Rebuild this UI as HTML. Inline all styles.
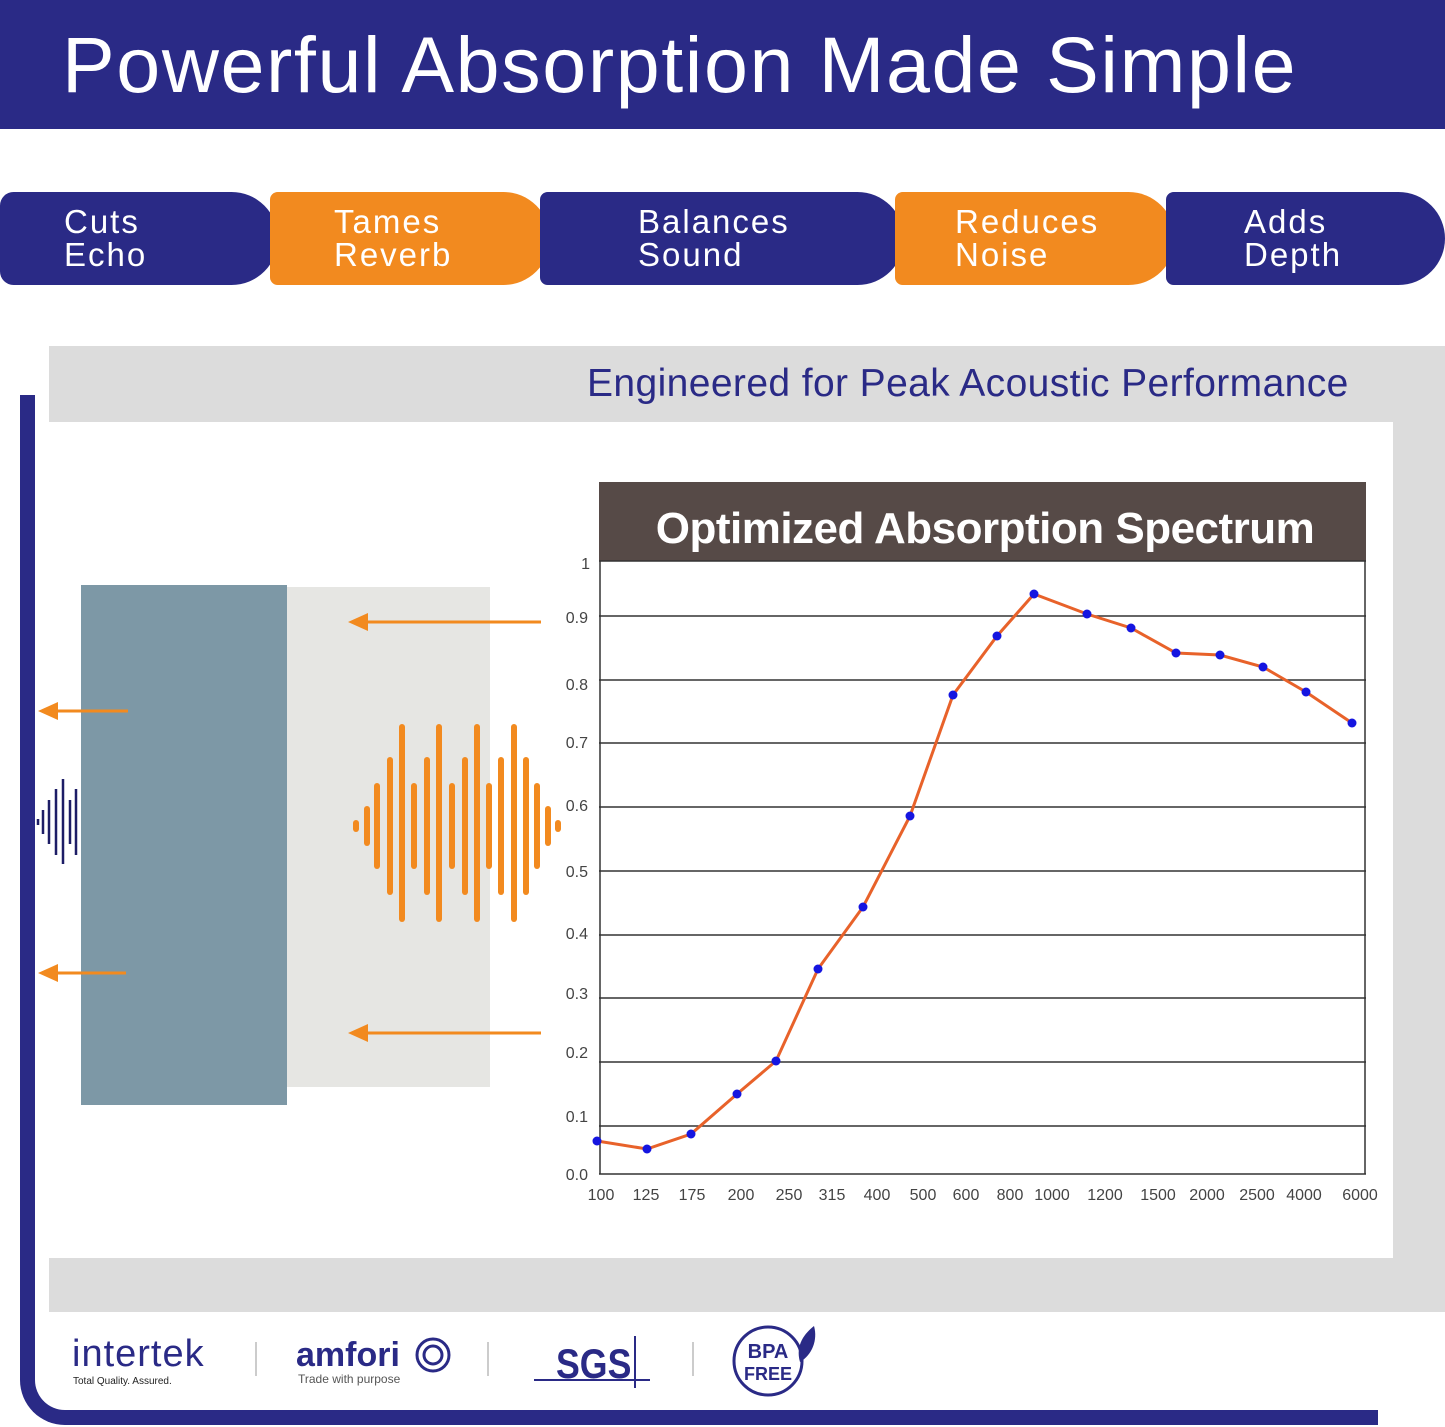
<!DOCTYPE html>
<html><head><meta charset="utf-8"><style>
body{margin:0;width:1445px;height:1427px;overflow:hidden;background:#fff;font-family:"Liberation Sans",sans-serif;position:relative}
.a{position:absolute}
.tab{position:absolute;top:192px;height:93px;color:#fff;font-size:33px;line-height:33px;letter-spacing:2px;box-sizing:border-box;padding-top:13px;border-radius:0 48px 48px 0}
</style></head><body>
<div class="a" style="left:0;top:0;width:1445px;height:129px;background:#2a2a86"></div>
<div class="a" style="left:62px;top:20px;color:#fff;font-size:79px;line-height:90px;letter-spacing:1.6px">Powerful Absorption Made Simple</div>

<div class="tab" style="left:0;width:278px;background:#2a2a86;padding-left:64px;border-radius:14px 48px 48px 14px">Cuts<br>Echo</div>
<div class="tab" style="left:270px;width:280px;background:#f28a1f;padding-left:64px;border-radius:8px 48px 48px 8px">Tames<br>Reverb</div>
<div class="tab" style="left:540px;width:364px;background:#2a2a86;padding-left:98px;border-radius:8px 48px 48px 8px">Balances<br>Sound</div>
<div class="tab" style="left:895px;width:280px;background:#f28a1f;padding-left:60px;border-radius:8px 48px 48px 8px">Reduces<br>Noise</div>
<div class="tab" style="left:1166px;width:279px;background:#2a2a86;padding-left:78px;border-radius:8px 48px 48px 8px">Adds<br>Depth</div>

<div class="a" style="left:20px;top:395px;width:1358px;height:1030px;border-left:15px solid #2a2a86;border-bottom:15px solid #2a2a86;border-radius:0 0 0 45px;box-sizing:border-box"></div>
<div class="a" style="left:49px;top:346px;width:1396px;height:966px;background:#dcdcdc"></div>
<div class="a" style="left:49px;top:422px;width:1344px;height:836px;background:#fff"></div>
<div class="a" style="left:587px;top:362px;color:#2a2a86;font-size:39px;line-height:44px;letter-spacing:0.4px">Engineered for Peak Acoustic Performance</div>

<div class="a" style="left:81px;top:585px;width:206px;height:520px;background:#7d98a6"></div>
<div class="a" style="left:287px;top:587px;width:203px;height:500px;background:#e6e6e3"></div>

<svg class="a" style="left:0;top:0" width="1445" height="1427">
<g stroke="#f28a1f" stroke-width="3" fill="#f28a1f">
<line x1="360" y1="622" x2="541" y2="622"/><polygon points="348,622 368,613 368,631" stroke="none"/>
<line x1="360" y1="1033" x2="541" y2="1033"/><polygon points="348,1033 368,1024 368,1042" stroke="none"/>
<line x1="50" y1="711" x2="128" y2="711"/><polygon points="38,711 58,702 58,720" stroke="none"/>
<line x1="50" y1="973" x2="126" y2="973"/><polygon points="38,973 58,964 58,982" stroke="none"/>
</g>
<g stroke="#f28a1f" stroke-width="6" stroke-linecap="round">
<line x1="356" y1="823" x2="356" y2="829"/><line x1="367" y1="809" x2="367" y2="843"/><line x1="377" y1="786" x2="377" y2="866"/><line x1="390" y1="760" x2="390" y2="892"/><line x1="402" y1="727" x2="402" y2="919"/><line x1="414" y1="786" x2="414" y2="866"/><line x1="427" y1="760" x2="427" y2="892"/><line x1="439" y1="727" x2="439" y2="919"/><line x1="452" y1="786" x2="452" y2="866"/><line x1="465" y1="760" x2="465" y2="892"/><line x1="477" y1="727" x2="477" y2="919"/><line x1="489" y1="786" x2="489" y2="866"/><line x1="501" y1="760" x2="501" y2="892"/><line x1="514" y1="727" x2="514" y2="919"/><line x1="526" y1="760" x2="526" y2="892"/><line x1="537" y1="786" x2="537" y2="866"/><line x1="548" y1="809" x2="548" y2="843"/><line x1="558" y1="823" x2="558" y2="829"/>
</g>
<g stroke="#1d1d66" stroke-width="2.5">
<line x1="38" y1="819" x2="38" y2="825"/><line x1="43" y1="810" x2="43" y2="834"/><line x1="49" y1="800" x2="49" y2="844"/><line x1="56" y1="789" x2="56" y2="855"/><line x1="63" y1="779" x2="63" y2="864"/><line x1="70" y1="800" x2="70" y2="844"/><line x1="76" y1="789" x2="76" y2="855"/>
</g>

<rect x="599" y="482" width="767" height="79" fill="#564a47"/>
<text x="985" y="543" fill="#fff" font-size="44" font-weight="bold" text-anchor="middle" font-family="Liberation Sans" letter-spacing="-0.5">Optimized Absorption Spectrum</text>
<g stroke="#333" stroke-width="1.5">
<line x1="599" y1="561" x2="1366" y2="561"/><line x1="599" y1="616" x2="1366" y2="616"/><line x1="599" y1="680" x2="1366" y2="680"/><line x1="599" y1="743" x2="1366" y2="743"/><line x1="599" y1="807" x2="1366" y2="807"/><line x1="599" y1="871" x2="1366" y2="871"/><line x1="599" y1="935" x2="1366" y2="935"/><line x1="599" y1="998" x2="1366" y2="998"/><line x1="599" y1="1062" x2="1366" y2="1062"/><line x1="599" y1="1126" x2="1366" y2="1126"/><line x1="599" y1="1174" x2="1366" y2="1174"/>
<line x1="600" y1="561" x2="600" y2="1174"/><line x1="1365" y1="561" x2="1365" y2="1174"/>
</g>
<g fill="#444" font-size="16" text-anchor="end" font-family="Liberation Sans">
<text x="590" y="569">1</text><text x="588" y="623">0.9</text><text x="588" y="690">0.8</text><text x="588" y="748">0.7</text><text x="588" y="811">0.6</text><text x="588" y="877">0.5</text><text x="588" y="939">0.4</text><text x="588" y="999">0.3</text><text x="588" y="1058">0.2</text><text x="588" y="1122">0.1</text><text x="588" y="1180">0.0</text>
</g>
<g fill="#444" font-size="16" text-anchor="middle" font-family="Liberation Sans">
<text x="601" y="1200">100</text><text x="646" y="1200">125</text><text x="692" y="1200">175</text><text x="741" y="1200">200</text><text x="789" y="1200">250</text><text x="832" y="1200">315</text><text x="877" y="1200">400</text><text x="923" y="1200">500</text><text x="966" y="1200">600</text><text x="1010" y="1200">800</text><text x="1052" y="1200">1000</text><text x="1105" y="1200">1200</text><text x="1158" y="1200">1500</text><text x="1207" y="1200">2000</text><text x="1257" y="1200">2500</text><text x="1304" y="1200">4000</text><text x="1360" y="1200">6000</text>
</g>
<polyline fill="none" stroke="#e8622a" stroke-width="3" points="597,1141 647,1149 691,1134 737,1094 776,1061 818,969 863,907 910,816 953,695 997,636 1034,594 1087,614 1131,628 1176,653 1220,655 1263,667 1306,692 1352,723"/>
<g fill="#1515e0">
<circle cx="597" cy="1141" r="4.5"/><circle cx="647" cy="1149" r="4.5"/><circle cx="691" cy="1134" r="4.5"/><circle cx="737" cy="1094" r="4.5"/><circle cx="776" cy="1061" r="4.5"/><circle cx="818" cy="969" r="4.5"/><circle cx="863" cy="907" r="4.5"/><circle cx="910" cy="816" r="4.5"/><circle cx="953" cy="695" r="4.5"/><circle cx="997" cy="636" r="4.5"/><circle cx="1034" cy="594" r="4.5"/><circle cx="1087" cy="614" r="4.5"/><circle cx="1131" cy="628" r="4.5"/><circle cx="1176" cy="653" r="4.5"/><circle cx="1220" cy="655" r="4.5"/><circle cx="1263" cy="667" r="4.5"/><circle cx="1306" cy="692" r="4.5"/><circle cx="1352" cy="723" r="4.5"/>
</g>

<g fill="#2a2a86" font-family="Liberation Sans">
<text x="72" y="1366" font-size="38" letter-spacing="1">intertek</text>
<text x="73" y="1384" font-size="10" fill="#222">Total Quality. Assured.</text>
<text x="296" y="1366" font-size="34" font-weight="bold">amfori</text>
<text x="298" y="1383" font-size="12" fill="#555">Trade with purpose</text>
<circle cx="433" cy="1355" r="16" fill="none" stroke="#2a2a86" stroke-width="3"/><circle cx="433" cy="1355" r="9" fill="none" stroke="#2a2a86" stroke-width="3"/>
<text x="556" y="1378" font-size="42" font-weight="bold" transform="scale(0.85,1)" style="transform-origin:556px 1378px">SGS</text>
<line x1="534" y1="1380" x2="650" y2="1380" stroke="#2a2a86" stroke-width="2"/>
<line x1="635" y1="1336" x2="635" y2="1388" stroke="#2a2a86" stroke-width="2"/>
<circle cx="768" cy="1361" r="34" fill="none" stroke="#2a2a86" stroke-width="3"/>
<text x="768" y="1358" font-size="20" font-weight="bold" text-anchor="middle">BPA</text>
<text x="768" y="1380" font-size="18" font-weight="bold" text-anchor="middle">FREE</text>
<path d="M800,1362 C795,1345 805,1333 814,1326 C818,1340 812,1355 800,1362Z" fill="#2a2a86"/>
</g>
<g stroke="#bbb" stroke-width="1.5">
<line x1="256" y1="1342" x2="256" y2="1376"/><line x1="488" y1="1342" x2="488" y2="1376"/><line x1="693" y1="1342" x2="693" y2="1376"/>
</g>
</svg>
</body></html>
